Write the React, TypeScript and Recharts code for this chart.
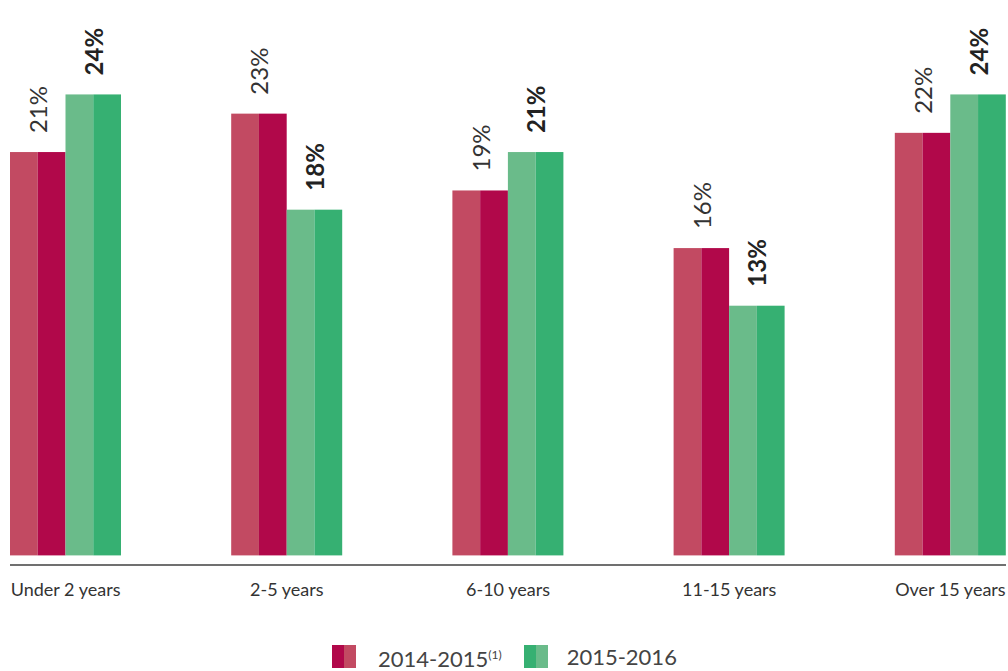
import { Bar, BarChart, LabelList, Legend, XAxis, YAxis } from "recharts";

const categories = [
  "Under 2 years",
  "2-5 years",
  "6-10 years",
  "11-15 years",
  "Over 15 years",
];
const values2015 = [21, 23, 19, 16, 22];
const values2016 = [24, 18, 21, 13, 24];

const data = categories.map((name, i) => ({
  name,
  y2015: values2015[i],
  y2016: values2016[i],
}));

const RED_LIGHT = "#c24a62";
const RED_DARK = "#b1084a";
const GREEN_LIGHT = "#6abb8a";
const GREEN_DARK = "#36b072";
const FONT = "Lato, 'Noto Sans', sans-serif";

// each bar is drawn as two halves: lighter on the left, darker on the right
const splitBar = (light: string, dark: string) => (props: any) => {
  const { x, y, width, height } = props;
  if (!height || height <= 0) return <g />;
  const half = width / 2;
  return (
    <g>
      <rect x={x} y={y} width={half} height={height} fill={light} />
      <rect x={x + half} y={y} width={width - half} height={height} fill={dark} />
    </g>
  );
};

const valueLabel = (bold: boolean) => (props: any) => {
  const { x, y, width, value } = props;
  const cx = x + width / 2;
  const ty = y - 19;
  return (
    <text
      x={cx}
      y={ty}
      transform={`rotate(-90, ${cx}, ${ty})`}
      textAnchor="start"
      dominantBaseline="central"
      fontFamily={FONT}
      fontSize={24}
      fontWeight={bold ? 700 : 400}
      fill={bold ? "#222" : "#333"}
    >
      {value}%
    </text>
  );
};

const Swatch = ({ dark, light }: { dark: string; light: string }) => (
  <span style={{ display: "inline-flex", width: 24, height: 23 }}>
    <span style={{ width: 12, height: 23, background: dark }} />
    <span style={{ width: 12, height: 23, background: light }} />
  </span>
);

const renderLegend = () => (
  <div
    style={{
      height: 60,
      paddingTop: 31,
      boxSizing: "border-box",
      display: "flex",
      alignItems: "center",
      fontFamily: FONT,
      fontSize: 22,
      color: "#444",
      lineHeight: "23px",
    }}
  >
    <span style={{ marginLeft: 322, display: "inline-flex" }}>
      <Swatch dark={RED_DARK} light={RED_LIGHT} />
    </span>
    <span style={{ marginLeft: 22 }}>
      2014-2015<sup style={{ fontSize: 12, verticalAlign: "8px" }}>(1)</sup>
    </span>
    <span style={{ marginLeft: 22, display: "inline-flex" }}>
      <Swatch dark={GREEN_DARK} light={GREEN_LIGHT} />
    </span>
    <span style={{ marginLeft: 19 }}>2015-2016</span>
  </div>
);

const App = () => {
  return (
    <div style={{ position: "absolute", left: 0, top: 0, width: 1008, height: 671 }}>
      <BarChart
        width={1008}
        height={671}
        data={data}
        margin={{ top: 8, right: 2, left: 10, bottom: 0 }}
        barSize={55.5}
        barGap={0}
      >
        <XAxis
          dataKey="name"
          height={46}
          padding={{ left: -55, right: -55 }}
          axisLine={{ stroke: "#707070", strokeWidth: 2 }}
          tickLine={false}
          tickSize={0}
          tickMargin={18}
          tick={{ fontFamily: FONT, fontSize: 18, fill: "#333" }}
          interval={0}
        />
        <YAxis hide domain={[-0.5, 28.5]} />
        <Legend verticalAlign="bottom" content={renderLegend} />
        <Bar
          dataKey="y2015"
          isAnimationActive={false}
          shape={splitBar(RED_LIGHT, RED_DARK)}
        >
          <LabelList dataKey="y2015" content={valueLabel(false)} />
        </Bar>
        <Bar
          dataKey="y2016"
          isAnimationActive={false}
          shape={splitBar(GREEN_LIGHT, GREEN_DARK)}
        >
          <LabelList dataKey="y2016" content={valueLabel(true)} />
        </Bar>
      </BarChart>
    </div>
  );
};

export default App;
